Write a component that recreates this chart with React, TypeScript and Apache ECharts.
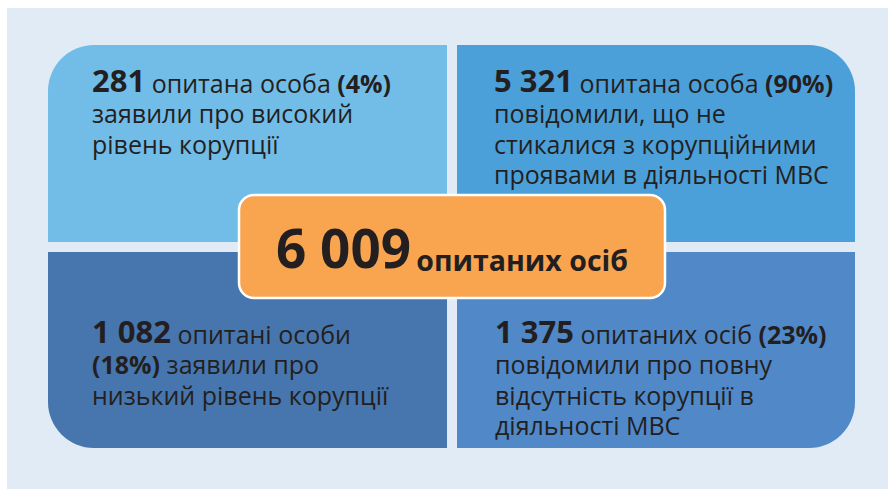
import React, { useEffect, useRef } from "react";
import * as echarts from "echarts";

// ---- data ----
const total = "6 009";
const totalLabel = "опитаних осіб";
const counts = ["281", "5 321", "1 082", "1 375"];
const shares = ["(4%)", "(90%)", "(18%)", "(23%)"];
// lines of each quadrant: {n|} count, {b|} share, {r|} regular
const quadrantLines: string[][] = [
  [`{n|${counts[0]}} {r|опитана особа} {b|${shares[0]}}`, "{r|заявили про високий}", "{r|рівень корупції}"],
  [
    `{n|${counts[1]}} {r|опитана особа} {b|${shares[1]}}`,
    "{r|повідомили, що не}",
    "{r|стикалися з корупційними}",
    "{r|проявами в діяльності МВС}",
  ],
  [`{n|${counts[2]}} {r|опитані особи}`, `{b|${shares[2]}} {r|заявили про}`, "{r|низький рівень корупції}"],
  [
    `{n|${counts[3]}} {r|опитаних осіб} {b|${shares[3]}}`,
    "{r|повідомили про повну}",
    "{r|відсутність корупції в}",
    "{r|діяльності МВС}",
  ],
];
const quadrantColors = ["#72bce8", "#4ba0da", "#4776ae", "#5088c8"];

const FONT = "'Open Sans', 'Noto Sans', sans-serif";
const INK = "#231f20";

export default function App() {
  const ref = useRef<HTMLDivElement>(null);
  useEffect(() => {
    document.body.style.margin = "0";
    const chart = echarts.init(ref.current!, null, { renderer: "svg" });

    const boxes = [
      { x: 48, y: 45, w: 399, h: 197, r: [46, 0, 0, 0] },
      { x: 457, y: 45, w: 398, h: 197, r: [0, 46, 0, 0] },
      { x: 48, y: 252, w: 399, h: 196, r: [0, 0, 0, 46] },
      { x: 457, y: 252, w: 398, h: 196, r: [0, 0, 46, 0] },
    ];
    const textPos = [
      { x: 92, y: 91 },
      { x: 494, y: 91 },
      { x: 92, y: 342 },
      { x: 495, y: 342 },
    ];
    const LH = 30.5;
    const rich = {
      n: { fontFamily: FONT, fontWeight: "bold", fontSize: 31, color: INK, lineHeight: 30, verticalAlign: "bottom" },
      b: { fontFamily: FONT, fontWeight: "bold", fontSize: 25, color: INK, lineHeight: 26, verticalAlign: "bottom" },
      r: { fontFamily: FONT, fontWeight: "normal", fontSize: 25, color: INK, lineHeight: 26, verticalAlign: "bottom" },
    };

    const graphic: any[] = [
      { type: "rect", shape: { x: 7, y: 8, width: 881, height: 481 }, style: { fill: "#e1ebf5" }, silent: true },
    ];
    boxes.forEach((b, i) => {
      graphic.push({
        type: "rect",
        shape: { x: b.x, y: b.y, width: b.w, height: b.h, r: b.r },
        style: { fill: quadrantColors[i] },
      });
    });
    quadrantLines.forEach((lines, i) => {
      lines.forEach((line, j) => {
        graphic.push({
          type: "text",
          x: textPos[i].x,
          y: textPos[i].y + j * LH + 4,
          style: {
            text: line,
            rich,
            fontFamily: FONT,
            fontSize: 25,
            fill: INK,
            align: "left",
            verticalAlign: "bottom",
          },
        });
      });
    });
    graphic.push({
      type: "rect",
      shape: { x: 239, y: 195, width: 426, height: 103, r: 15 },
      style: { fill: "#f9a550", stroke: "#ffffff", lineWidth: 2.5 },
    });
    graphic.push({
      type: "text",
      x: 452,
      y: 246,
      style: {
        text: `{big|${total}} {mid|${totalLabel}}`,
        rich: {
          big: { fontFamily: FONT, fontWeight: "bold", fontSize: 53, color: INK, lineHeight: 56, verticalAlign: "bottom" },
          mid: { fontFamily: FONT, fontWeight: "bold", fontSize: 28.5, color: INK, lineHeight: 33, verticalAlign: "bottom" },
        },
        fontFamily: FONT,
        fontSize: 20,
        fontWeight: "bold",
        fill: INK,
        align: "center",
        verticalAlign: "middle",
      },
    });

    chart.setOption({ animation: false, graphic });
    return () => chart.dispose();
  }, []);
  return <div ref={ref} style={{ width: 888, height: 489, background: "#ffffff" }} />;
}
